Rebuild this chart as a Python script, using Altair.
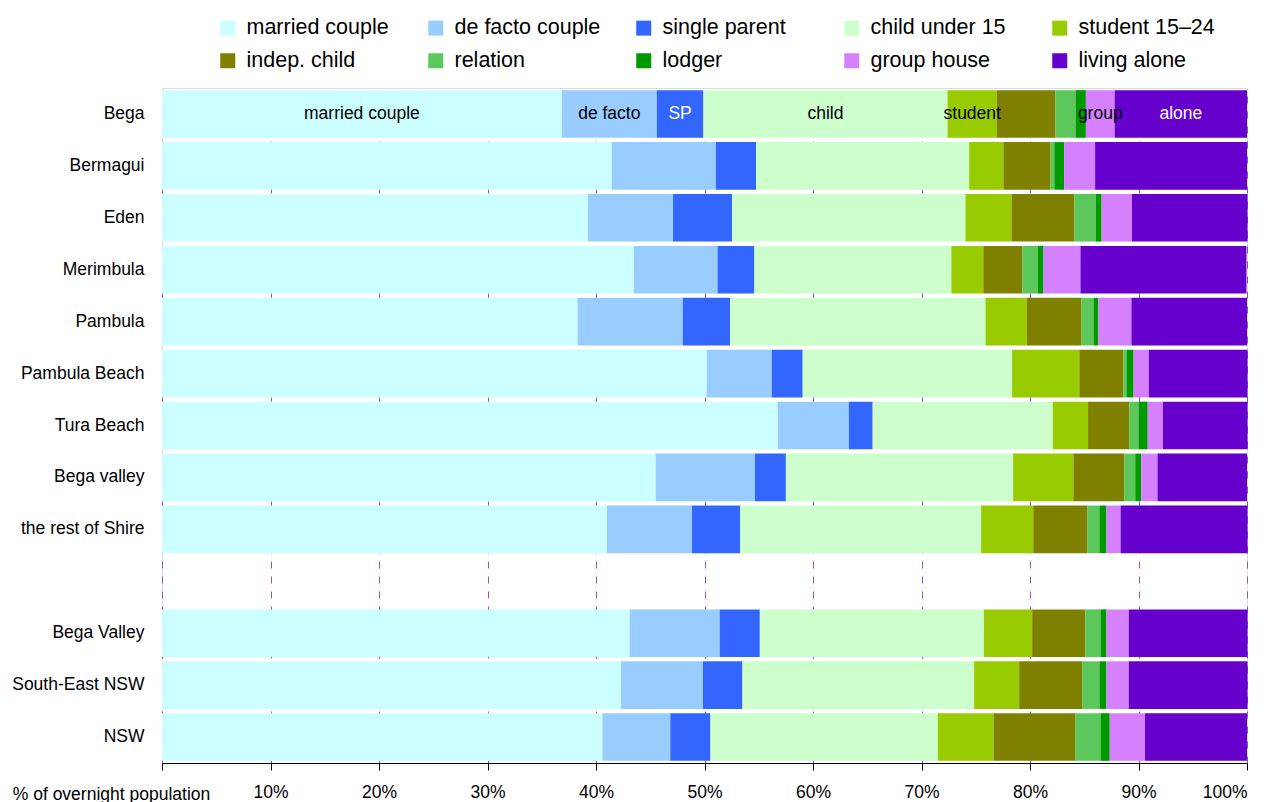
import altair as alt
import pandas as pd

FONT = "Liberation Sans, Arial, sans-serif"

places = ["Bega", "Bermagui", "Eden", "Merimbula", "Pambula", "Pambula Beach",
          "Tura Beach", "Bega valley", "the rest of Shire", " ",
          "Bega Valley", "South-East NSW", "NSW"]
data_places = [p for p in places if p.strip()]

categories = ["married couple", "de facto couple", "single parent", "child under 15",
              "student 15\u201324", "indep. child", "relation", "lodger",
              "group house", "living alone"]
colors = ["#ccffff", "#99ccff", "#3366ff", "#ccffcc", "#99cc00",
          "#808000", "#5cc85c", "#009900", "#d580ff", "#6600cc"]

married  = [36.85, 41.45, 39.25, 43.5, 38.3, 50.2, 56.75, 45.5, 41.0, 43.1, 42.3, 40.6]
defacto  = [8.75, 9.6, 7.85, 7.7, 9.7, 6.0, 6.55, 9.15, 7.85, 8.3, 7.55, 6.25]
single   = [4.3, 3.7, 5.45, 3.4, 4.35, 2.85, 2.2, 2.85, 4.45, 3.7, 3.65, 3.7]
child    = [22.5, 19.65, 21.5, 18.15, 23.55, 19.3, 16.6, 20.95, 22.2, 20.65, 21.35, 20.95]
student  = [4.55, 3.15, 4.25, 2.95, 3.8, 6.2, 3.25, 5.55, 4.8, 4.45, 4.15, 5.15]
indep    = [5.4, 4.35, 5.8, 3.6, 5.05, 4.05, 3.8, 4.7, 5.0, 4.9, 5.8, 7.55]
relation = [1.85, 0.35, 1.95, 1.4, 1.1, 0.3, 0.85, 1.0, 1.1, 1.4, 1.6, 2.3]
lodger   = [0.95, 0.9, 0.55, 0.55, 0.45, 0.65, 0.85, 0.55, 0.65, 0.55, 0.65, 0.85]
group    = [2.65, 2.85, 2.8, 3.4, 3.05, 1.4, 1.4, 1.5, 1.3, 2.05, 2.05, 3.25]
alone    = [12.2, 14.0, 10.65, 15.3, 10.65, 9.1, 7.8, 8.25, 11.7, 10.95, 10.95, 9.4]

series = [married, defacto, single, child, student, indep, relation, lodger, group, alone]

# labels written inside the first (Bega) bar
bega_labels = ["married couple", "de facto", "SP", "child", "student", "", "", "", "group", "alone"]

rows = []
for i, place in enumerate(data_places):
    start = 0.0
    for j, cat in enumerate(categories):
        v = series[j][i]
        lab = bega_labels[j] if place == "Bega" else ""
        rows.append({"place": place, "cat": cat, "start": start, "end": start + v,
                     "lab": lab, "order": j})
        start += v
df = pd.DataFrame(rows)

y_enc = alt.Y("place:N", sort=places,
              scale=alt.Scale(domain=places, paddingInner=0.083, paddingOuter=0.0415),
              axis=alt.Axis(title=None, domain=False, ticks=False, labelPadding=18,
                            labelFontSize=17.5, labelFont=FONT, labelColor="#000",
                            grid=False))

x_axis = alt.Axis(values=list(range(0, 101, 10)), grid=True, gridDash=[7, 8],
                  gridColor="#8a55d8", gridWidth=1, domainColor="#000", tickColor="#000",
                  tickSize=7, labelFontSize=17.5, labelFont=FONT, labelColor="#000",
                  labelPadding=13, labelExpr="datum.value == 0 ? '' : datum.value + '%'",
                  title="% of overnight population", titleFont=FONT, titleFontSize=17.5,
                  titleFontWeight="normal", titleColor="#000", titleX=-51, titleY=31,
                  titleAlign="center", titleBaseline="middle")

bars = alt.Chart(df).mark_bar().encode(
    x=alt.X("start:Q", scale=alt.Scale(domain=[0, 100], nice=False, zero=True), axis=x_axis),
    x2="end:Q",
    y=y_enc,
    color=alt.Color("cat:N", scale=alt.Scale(domain=categories, range=colors),
                    legend=alt.Legend(title=None, orient="none", direction="horizontal",
                                      legendX=55, legendY=-71,
                                      columns=5, gridAlign="all", columnPadding=32,
                                      rowPadding=10, symbolType="square", symbolSize=225,
                                      symbolStrokeWidth=0, symbolOpacity=1,
                                      labelFontSize=21.5, labelFont=FONT, labelColor="#000",
                                      labelOffset=8, labelLimit=400)),
    order=alt.Order("order:Q"),
)

texts = alt.Chart(df).transform_filter("datum.lab != ''").transform_calculate(
    mid="(datum.start + datum.end) / 2"
).mark_text(font=FONT, fontSize=17.5, baseline="middle", align="center").encode(
    x=alt.X("mid:Q"),
    y=alt.Y("place:N", sort=places),
    text="lab:N",
    color=alt.condition("datum.lab == 'SP' || datum.lab == 'alone'",
                        alt.value("#ffffff"), alt.value("#000000")),
)

chart = alt.layer(bars, texts).properties(
    width=1085, height=675,
    autosize=alt.AutoSizeParams(type="none"),
    padding={"left": 154, "top": 80, "right": 20, "bottom": 42},
).configure_view(stroke=None).configure(background="white")

chart.save("out.html", embed_options={"renderer": "svg", "actions": False})
